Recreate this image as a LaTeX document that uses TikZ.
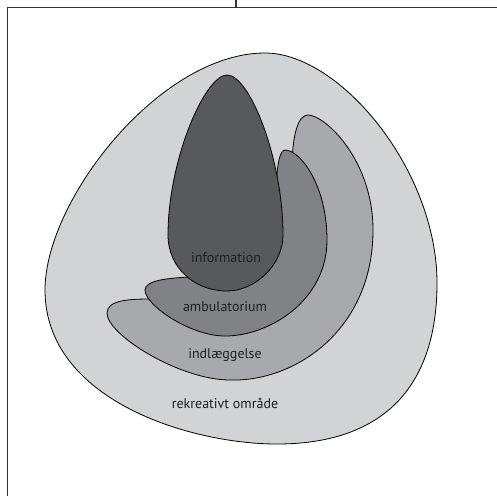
\documentclass[tikz,border=0pt]{standalone}
\usepackage{fontspec}
\setmainfont{PT Sans}
\begin{document}
\begin{tikzpicture}[x=1pt,y=-1pt,
  blob/.style={draw=black,line width=0.8pt},
  lbl/.style={font=\fontsize{14}{16}\selectfont,text=black!88,inner sep=0pt},
  frame/.style={draw=black!80,line width=1.6pt}]
\definecolor{cOuter}{HTML}{D1D3D4}
\definecolor{cInd}{HTML}{A7A9AC}
\definecolor{cAmb}{HTML}{808285}
\definecolor{cInfo}{HTML}{58595B}
\useasboundingbox (0,0) rectangle (497,496);
% frame
\draw[frame] (7.5,496) -- (7.5,7.5) -- (497,7.5);
\draw[frame] (235.7,0) -- (235.7,7.5);
% outer: rekreativt omraade
\filldraw[blob,fill=cOuter] (265,53)
  .. controls (340,53) and (437,170) .. (437,283)
  .. controls (437,390) and (380,444) .. (277,444)
  .. controls (190,444) and (45,400) .. (45,290)
  .. controls (45,200) and (160,53) .. (265,53) -- cycle;
% indlaeggelse
\filldraw[blob,fill=cInd] (308,115)
  .. controls (325,115) and (373,160) .. (373,230)
  .. controls (373,330) and (295,382) .. (230,380)
  .. controls (180,380) and (107,335) .. (107,313)
  .. controls (107,300) and (130,299) .. (150,299)
  .. controls (220,295) and (290,230) .. (292,170)
  .. controls (292,135) and (298,115) .. (308,115) -- cycle;
% ambulatorium
\filldraw[blob,fill=cAmb] (285,150)
  .. controls (300,150) and (327,185) .. (327,240)
  .. controls (327,300) and (270,336) .. (225,336)
  .. controls (190,336) and (145,305) .. (145,290)
  .. controls (145,280) and (170,278) .. (190,277)
  .. controls (220,270) and (270,240) .. (276,200)
  .. controls (276,170) and (279,150) .. (285,150) -- cycle;
% information
\filldraw[blob,fill=cInfo] (227,75)
  .. controls (250,75) and (283,160) .. (283,235)
  .. controls (283,265) and (255,291) .. (227,291)
  .. controls (195,291) and (168,268) .. (168,235)
  .. controls (168,160) and (205,75) .. (227,75) -- cycle;
% labels
\node[lbl] (info) at (226,258) {information};
\node[lbl] (amb) at (225,307) {ambulatorium};
\node[lbl] (ind) at (225,355) {indlæggelse};
\node[lbl] (rek) at (225,403) {rekreativt område};
\end{tikzpicture}
\end{document}
